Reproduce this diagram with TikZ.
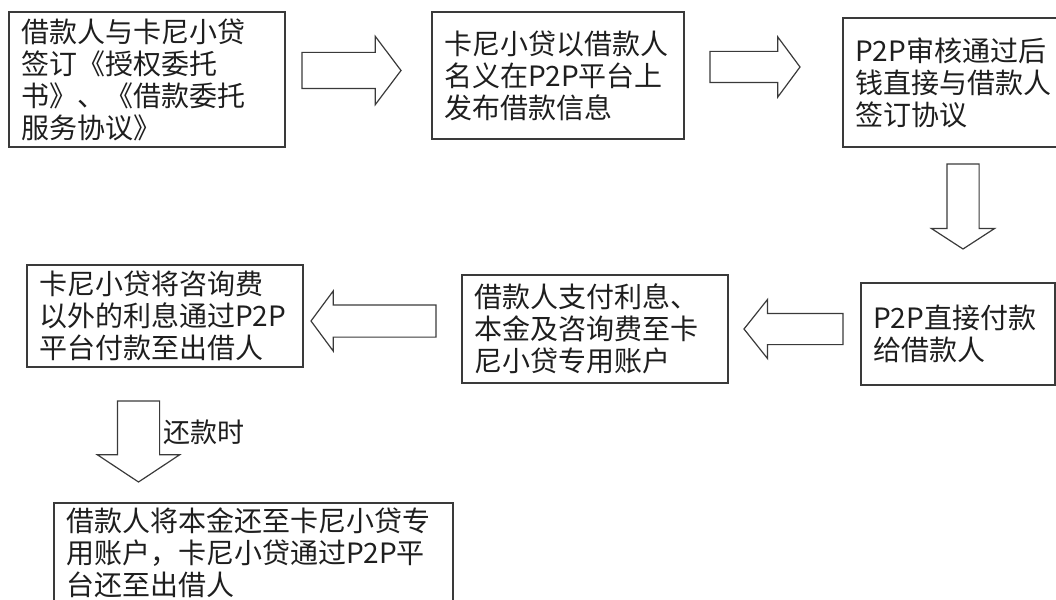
\documentclass[tikz,border=0pt]{standalone}
\usepackage{fontspec}
\setmainfont{Noto Sans CJK SC}
\usetikzlibrary{shapes.arrows}
\definecolor{edgegray}{HTML}{3A3A3A}
\definecolor{inkgray}{HTML}{1E1E1E}

\begin{document}
\begin{tikzpicture}[
	x=1pt, y=-1pt,
	box/.style={draw=edgegray, line width=1.5pt, text=inkgray, align=left,
		inner xsep=12pt, inner ysep=0pt, outer sep=0pt, anchor=north west,
		font=\fontsize{28}{32}\selectfont},
	blockarrow/.style n args={4}{single arrow, draw=edgegray, line width=1.2pt,
		inner xsep=0pt, inner ysep=#2, outer sep=0pt, anchor=tail,
		minimum height=#1,
		single arrow head extend=#3, single arrow tip angle=#4}]
\useasboundingbox (0,0) rectangle (1056,599);

% upper row
\node[box, text width=252pt, minimum height=135pt] (sign) at (9,12)
	{借款人与卡尼小贷\\签订《授权委托\\书》、《借款委托\\服务协议》};
\node[box, text width=228pt, minimum height=127pt] (publish) at (432,12)
	{卡尼小贷以借款人\\名义在P2P平台上\\发布借款信息};
\node[box, text width=226pt, minimum height=129pt] (audit) at (843,18)
	{P2P审核通过后\\钱直接与借款人\\签订协议};

% middle row
\node[box, text width=170pt, minimum height=102pt] (pay) at (861,283)
	{P2P直接付款\\给借款人};
\node[box, text width=242pt, minimum height=108pt] (interest) at (462,275)
	{借款人支付利息、\\本金及咨询费至卡\\尼小贷专用账户};
\node[box, text width=252pt, minimum height=102pt] (forward) at (27,265)
	{卡尼小贷将咨询费\\以外的利息通过P2P\\平台付款至出借人};

% repayment
\node[box, text width=375pt, minimum height=100pt] (repay) at (54,503)
	{借款人将本金还至卡尼小贷专\\用账户，卡尼小贷通过P2P平\\台还至出借人};

% block arrows
\node[blockarrow={99pt}{17.5pt}{16pt}{106}] (a1) at (302,70.5) {};
\node[blockarrow={90pt}{15pt}{14.5pt}{107}] (a2) at (710,67) {};
\node[blockarrow={85pt}{15.5pt}{15.5pt}{114}, rotate=-90] (a3) at (963,164) {};
\node[blockarrow={99pt}{15pt}{14pt}{103}, rotate=180] (a4) at (843,329) {};
\node[blockarrow={125pt}{15.5pt}{14pt}{107}, rotate=180] (a5) at (436,321) {};
\node[blockarrow={81pt}{20.5pt}{20pt}{113}, rotate=-90] (a6) at (138.5,401) {};
\node[anchor=west, inner sep=0pt, text=inkgray, font=\fontsize{27}{30}\selectfont]
	(when) at (163,432) {还款时};
\end{tikzpicture}
\end{document}
